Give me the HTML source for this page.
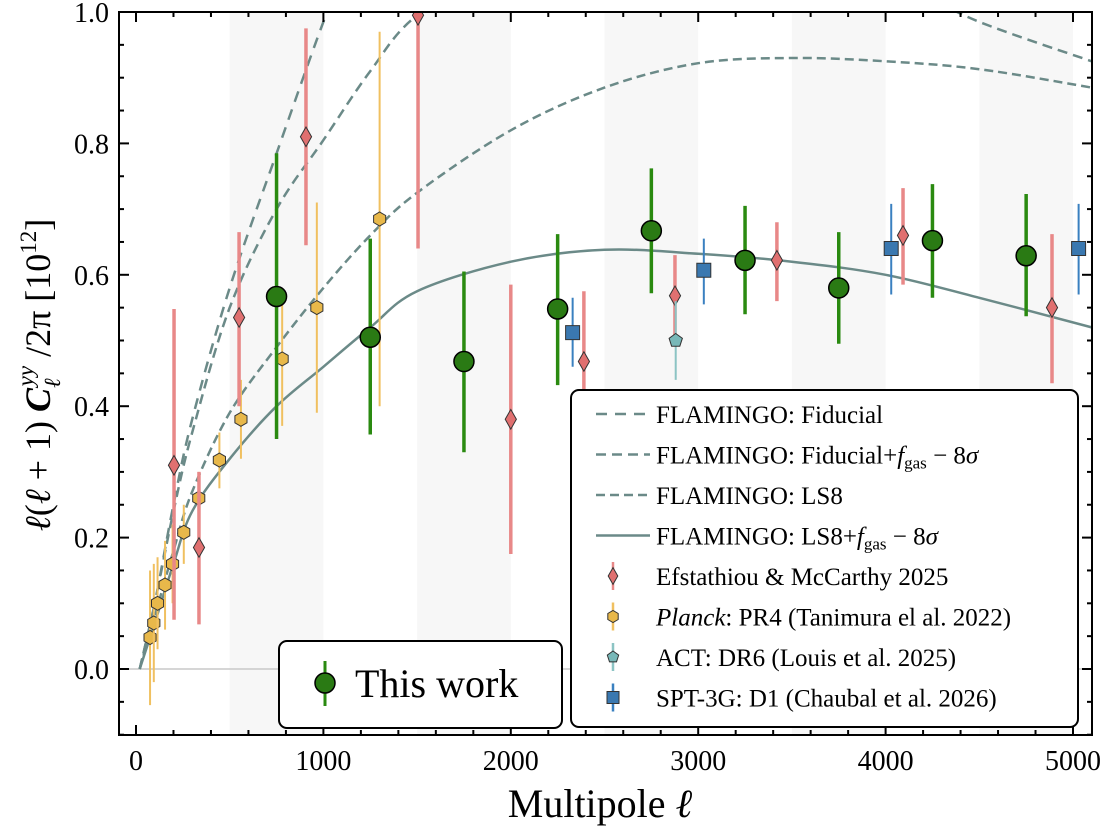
<!DOCTYPE html>
<html><head><meta charset="utf-8"><style>
body{margin:0;background:#fff}
svg text{font-family:"Liberation Serif","DejaVu Serif",serif;fill:#000}
</style></head><body>
<svg id="c" width="1108" height="833" viewBox="0 0 1108 833" xmlns="http://www.w3.org/2000/svg">
<defs><clipPath id="clip"><rect x="119" y="12" width="973" height="723"/></clipPath></defs>
<g id="bands" clip-path="url(#clip)"></g>
<line x1="119" x2="1092" y1="669" y2="669" stroke="#c8c8c8" stroke-width="1.5"/>
<g id="curves" clip-path="url(#clip)"></g>
<g id="pts" clip-path="url(#clip)"></g>
<rect x="119" y="12" width="973" height="723" fill="none" stroke="#000" stroke-width="2"/>
<g id="ticks"></g>
<text x="600" y="817" font-size="40" text-anchor="middle">Multipole <tspan font-style="italic">ℓ</tspan></text>
<text transform="translate(50,375) rotate(-90)" font-size="36" text-anchor="middle"><tspan font-style="italic">ℓ</tspan>(<tspan font-style="italic">ℓ</tspan> + 1) <tspan font-style="italic" font-weight="bold">C</tspan><tspan font-size="23" dy="10" font-style="italic">ℓ</tspan><tspan font-size="23" dy="-27" dx="-8" font-style="italic">yy</tspan><tspan dy="17"> /2π [10</tspan><tspan font-size="23" dy="-14">12</tspan><tspan dy="14">]</tspan></text>
<g>
<rect x="279" y="641" width="283" height="87" rx="8" fill="#fff" stroke="#000" stroke-width="2"/>
<line x1="325" x2="325" y1="661" y2="706" stroke="#2a8a10" stroke-width="3"/>
<circle cx="325" cy="683" r="10" fill="#2a7a14" stroke="#000" stroke-width="1.5"/>
<text x="355" y="697" font-size="40">This work</text>
</g>
<g id="legend">
<rect x="571" y="390" width="507" height="337" rx="8" fill="#fff" stroke="#000" stroke-width="2"/>
</g>
</svg>
<script>
const X0=136,XS=0.18740,Y0=669,YS=657;
const xs=l=>X0+l*XS, ys=v=>Y0-v*YS;
const NS='http://www.w3.org/2000/svg';
function mk(t,a,p){const e=document.createElementNS(NS,t);for(const k in a)e.setAttribute(k,a[k]);p.appendChild(e);return e;}
// model curves
const fidL=[20,100,200,300,500,750,1020,1200];
const fidV=[0,0.10,0.25,0.38,0.58,0.785,1.0,1.12];
const fgasL=[20,100,200,300,500,750,1000,1250,1500,2000,3000,4000,4500,5100];
const fgasV=[0,0.10,0.24,0.36,0.55,0.70,0.805,0.91,0.995,1.08,1.14,1.05,0.985,0.925];
const ls8L=[20,100,200,300,500,750,1000,1250,1500,2000,2500,3000,3500,4000,4500,5100];
const ls8V=[0,0.08,0.18,0.27,0.39,0.49,0.58,0.66,0.725,0.82,0.885,0.922,0.93,0.925,0.913,0.885];
const solL=[20,100,200,300,500,750,1000,1250,1500,2000,2500,3000,3500,4000,4500,5100];
const solV=[0,0.07,0.16,0.24,0.32,0.40,0.46,0.52,0.575,0.62,0.638,0.632,0.62,0.60,0.565,0.52];
// data
const twL=[750,1250,1750,2250,2750,3250,3750,4250,4750];
const twV=[0.567,0.505,0.468,0.548,0.667,0.622,0.58,0.652,0.629];
const twLo=[0.35,0.357,0.33,0.432,0.572,0.54,0.495,0.565,0.537];
const twHi=[0.785,0.655,0.605,0.662,0.762,0.705,0.665,0.738,0.723];
const efL=[203,336,550,907,1505,2000,2390,2876,3420,4093,4888];
const efV=[0.31,0.185,0.535,0.81,0.995,0.38,0.468,0.568,0.622,0.66,0.55];
const efLo=[0.075,0.068,0.40,0.645,0.64,0.175,0.36,0.505,0.56,0.585,0.435];
const efHi=[0.548,0.30,0.665,0.975,1.05,0.585,0.575,0.63,0.68,0.732,0.662];
const plL=[75,95,115,155,195,255,335,445,560,780,965,1300];
const plV=[0.048,0.07,0.10,0.128,0.16,0.208,0.26,0.318,0.38,0.472,0.55,0.685];
const plLo=[-0.055,-0.02,0.03,0.06,0.10,0.16,0.21,0.275,0.32,0.37,0.39,0.40];
const plHi=[0.15,0.16,0.17,0.195,0.22,0.25,0.30,0.36,0.44,0.57,0.71,0.97];
const actL=[2880],actV=[0.50],actLo=[0.44],actHi=[0.56];
const sptL=[2330,3030,4030,5030],sptV=[0.512,0.607,0.64,0.64],sptLo=[0.46,0.555,0.57,0.57],sptHi=[0.565,0.655,0.708,0.708];
const bandStarts=[500,1500,2500,3500,4500];
const xTicks=[0,1000,2000,3000,4000,5000];
const yTicks=[0,0.2,0.4,0.6,0.8,1.0];

const bands=document.getElementById('bands');
bandStarts.forEach(b=>{const r=mk('rect',{x:xs(b),y:12,width:xs(b+500)-xs(b),height:723,fill:'#f7f7f7'},bands);

});
const cg=document.getElementById('curves');
const LC='#6b8a88';
function curve(L,V,dash,name){
 const P=L.map((l,i)=>[xs(l),ys(V[i])]);
 let d='M'+P[0][0].toFixed(1)+','+P[0][1].toFixed(1);
 for(let i=0;i<P.length-1;i++){const p0=P[Math.max(0,i-1)],p1=P[i],p2=P[i+1],p3=P[Math.min(P.length-1,i+2)];
  const c1=[p1[0]+(p2[0]-p0[0])/6,p1[1]+(p2[1]-p0[1])/6],c2=[p2[0]-(p3[0]-p1[0])/6,p2[1]-(p3[1]-p1[1])/6];
  d+='C'+c1.map(v=>v.toFixed(1))+' '+c2.map(v=>v.toFixed(1))+' '+p2.map(v=>v.toFixed(1));}
 const p=mk('path',{d,fill:'none',stroke:LC,'stroke-width':2.5,'stroke-dasharray':dash},cg);
 
 }
curve(fidL,fidV,'11,8','fiducial-curve');
curve(fgasL,fgasV,'10,6','fiducial-fgas-curve');
curve(ls8L,ls8V,'9,5','ls8-curve');
curve(solL,solV,'none','ls8-fgas-curve');
const pg=document.getElementById('pts');
function marker(g,shape,cx,cy,s,fill){
 if(shape==='circle') return mk('circle',{cx,cy,r:s,fill,stroke:'#000','stroke-width':1.5},g);
 let pts;
 if(shape==='diamond') pts=[[0,-s*1.4],[s*0.8,0],[0,s*1.4],[-s*0.8,0]];
 if(shape==='hex') pts=[0,1,2,3,4,5].map(k=>[s*Math.cos(Math.PI/3*k+Math.PI/6),s*Math.sin(Math.PI/3*k+Math.PI/6)]);
 if(shape==='pent') pts=[0,1,2,3,4].map(k=>[s*Math.cos(2*Math.PI/5*k-Math.PI/2),s*Math.sin(2*Math.PI/5*k-Math.PI/2)]);
 if(shape==='square') pts=[[-s,-s],[s,-s],[s,s],[-s,s]];
 return mk('polygon',{points:pts.map(p=>(cx+p[0]).toFixed(1)+','+(cy+p[1]).toFixed(1)).join(' '),fill,stroke:'#333','stroke-width':1},g);}
function series(L,V,Lo,Hi,ecol,ew,shape,s,fill,name){L.forEach((l,i)=>{
 const g=mk('g',{},pg);
 
 
 mk('line',{x1:xs(l),x2:xs(l),y1:ys(Lo[i]),y2:ys(Hi[i]),stroke:ecol,'stroke-width':ew},g);
 marker(g,shape,xs(l),ys(V[i]),s,fill);});}
series(plL,plV,plLo,plHi,'#f0c060',2,'hex',7,'#e8b84a','planck');
series(efL,efV,efLo,efHi,'#e88888',3.5,'diamond',7,'#e07070','efstathiou');
series(actL,actV,actLo,actHi,'#8cc4c4',2,'pent',7,'#78b8b8','act');
series(sptL,sptV,sptLo,sptHi,'#3a80c0',2,'square',7,'#3a78b0','spt');
series(twL,twV,twLo,twHi,'#2a8a10',3.5,'circle',10,'#2a7a14','this-work');
// ticks
const tg=document.getElementById('ticks');
for(let l=0;l<=5000;l+=200){const x=xs(l),maj=l%1000===0,len=maj?10:5;
 mk('line',{x1:x,x2:x,y1:735,y2:735-len,stroke:'#000','stroke-width':2},tg);
 mk('line',{x1:x,x2:x,y1:12,y2:12+len,stroke:'#000','stroke-width':2},tg);}
for(let k=-2;k<=20;k++){const v=k*0.05,y=ys(v),maj=k%4===0,len=maj?10:5;
 mk('line',{x1:119,x2:119+len,y1:y,y2:y,stroke:'#000','stroke-width':2},tg);
 mk('line',{x1:1092,x2:1092-len,y1:y,y2:y,stroke:'#000','stroke-width':2},tg);}
xTicks.forEach(t=>{const e=mk('text',{x:xs(t),y:770,'font-size':28,'text-anchor':'middle'},tg);e.textContent=t;
 
 });
yTicks.forEach(t=>{const e=mk('text',{x:109,y:ys(t)+10,'font-size':28,'text-anchor':'end'},tg);e.textContent=t.toFixed(1);
 
 });
// legend
const lg=document.getElementById('legend');
const rows=[
 ['line','11,8','FLAMINGO: Fiducial'],
 ['line','10,6','FLAMINGO: Fiducial+<tspan font-style="italic">f</tspan><tspan font-size="17" dy="5">gas</tspan><tspan dy="-5"> − 8</tspan><tspan font-style="italic">σ</tspan>'],
 ['line','9,5','FLAMINGO: LS8'],
 ['line','none','FLAMINGO: LS8+<tspan font-style="italic">f</tspan><tspan font-size="17" dy="5">gas</tspan><tspan dy="-5"> − 8</tspan><tspan font-style="italic">σ</tspan>'],
 ['diamond','#e07070','Efstathiou &amp; McCarthy 2025','#e88888'],
 ['hex','#e8b84a','<tspan font-style="italic">Planck</tspan>: PR4 (Tanimura el al. 2022)','#f0c060'],
 ['pent','#78b8b8','ACT: DR6 (Louis et al. 2025)','#8cc4c4'],
 ['square','#3a78b0','SPT-3G: D1 (Chaubal et al. 2026)','#3a80c0']];
rows.forEach((r,i)=>{const y=414+i*40.5;const g=mk('g',{},lg);
 
 
 if(r[0]==='line') mk('line',{x1:596,x2:650,y1:y,y2:y,stroke:LC,'stroke-width':2.5,'stroke-dasharray':r[1]},g);
 else{mk('line',{x1:613,x2:613,y1:y-14,y2:y+14,stroke:r[3],'stroke-width':2.5},g);marker(g,r[0],613,y,6,r[1]);}
 const t=mk('text',{x:656,y:y+9,'font-size':25},g);t.innerHTML=r[2];});
</script>
</body></html>
